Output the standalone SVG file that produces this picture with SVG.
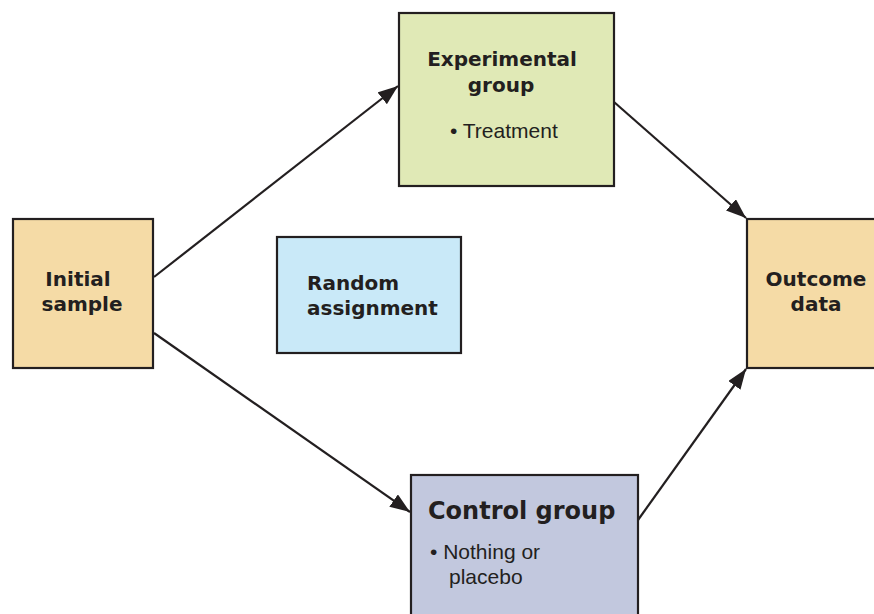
<svg xmlns="http://www.w3.org/2000/svg" width="874" height="614" viewBox="0 0 874 614">
<defs>
<marker id="ah" viewBox="0 0 20 15" refX="20" refY="7.5" markerWidth="20" markerHeight="15" markerUnits="userSpaceOnUse" orient="auto">
<path d="M0,0 L20,7.5 L0,15 z" fill="#231f20"/>
</marker>
<style>
.box{stroke:#231f20;stroke-width:2.2}
.t{font-family:"DejaVu Sans","Liberation Sans",sans-serif;font-weight:bold;font-size:20px;fill:#231f20}
.r{font-family:"Liberation Sans",Arial,sans-serif;font-size:21px;fill:#231f20}
.c{stroke:#231f20;stroke-width:2.2;fill:none;marker-end:url(#ah)}
</style>
</defs>
<rect width="874" height="614" fill="#ffffff"/>
<g id="connectors">
<line class="c" x1="154" y1="277" x2="398" y2="86"/>
<line class="c" x1="154" y1="333" x2="410" y2="512"/>
<line class="c" x1="614" y1="102" x2="746" y2="218"/>
<line class="c" x1="638" y1="520" x2="746" y2="369"/>
</g>
<g id="initial-sample">
<rect class="box" x="13" y="219" width="140" height="149" fill="#f5dba6"/>
<text class="t" x="78" y="286" text-anchor="middle">Initial</text>
<text class="t" x="82" y="311" text-anchor="middle">sample</text>
</g>
<g id="experimental-group">
<rect class="box" x="399" y="13" width="215" height="173" fill="#e0e9b6"/>
<text class="t" x="502" y="66" text-anchor="middle">Experimental</text>
<text class="t" x="501" y="92" text-anchor="middle">group</text>
<text class="r" x="450" y="138">• Treatment</text>
</g>
<g id="random-assignment">
<rect class="box" x="277" y="237" width="184" height="116" fill="#c9e9f8"/>
<text class="t" x="307" y="290">Random</text>
<text class="t" x="307" y="315">assignment</text>
</g>
<g id="outcome-data">
<rect class="box" x="747" y="219" width="130" height="149" fill="#f5dba6"/>
<text class="t" x="816" y="286" text-anchor="middle">Outcome</text>
<text class="t" x="816" y="311" text-anchor="middle">data</text>
</g>
<g id="control-group">
<rect class="box" x="411" y="475" width="227" height="145" fill="#c2c8de"/>
<text class="t" x="428" y="519" style="font-size:24px">Control group</text>
<text class="r" x="430" y="559">• Nothing or</text>
<text class="r" x="449" y="584">placebo</text>
</g>
</svg>
